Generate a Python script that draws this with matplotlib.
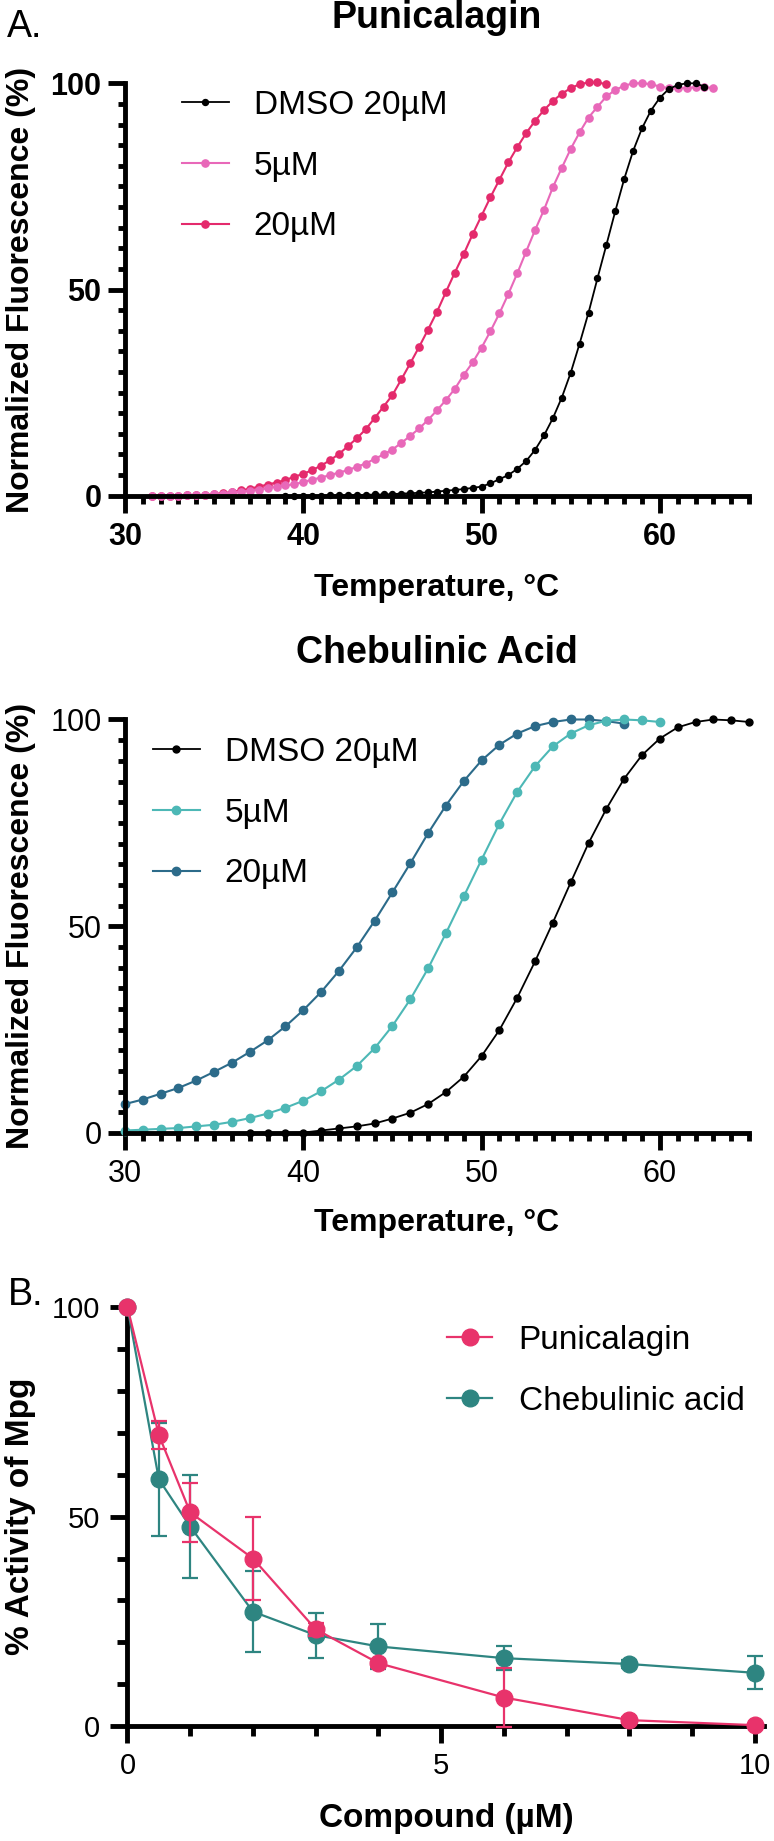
import numpy as np
import matplotlib
matplotlib.use('Agg')
import matplotlib.pyplot as plt
from matplotlib.lines import Line2D

plt.rcParams['font.family'] = ['Liberation Sans', 'DejaVu Sans']

# ---------------- data: Punicalagin melt curves (0.5 C steps) ----------------
temp_pun_5 = [31.5, 32.0, 32.5, 33.0, 33.5, 34.0, 34.5, 35.0, 35.5, 36.0,
              36.5, 37.0, 37.5, 38.0, 38.5, 39.0, 39.5, 40.0, 40.5, 41.0,
              41.5, 42.0, 42.5, 43.0, 43.5, 44.0, 44.5, 45.0, 45.5, 46.0,
              46.5, 47.0, 47.5, 48.0, 48.5, 49.0, 49.5, 50.0, 50.5, 51.0,
              51.5, 52.0, 52.5, 53.0, 53.5, 54.0, 54.5, 55.0, 55.5, 56.0,
              56.5, 57.0, 57.5, 58.0, 58.5, 59.0, 59.5, 60.0, 60.5, 61.0,
              61.5, 62.0, 62.5, 63.0]
fluor_pun_5 = [0.0, 0.0, 0.0, 0.0, 0.1, 0.1, 0.2, 0.3, 0.5, 0.8,
               1.0, 1.2, 1.5, 1.8, 2.2, 2.5, 2.8, 3.3, 3.9, 4.4,
               5.0, 5.6, 6.2, 7.0, 7.8, 8.9, 10.0, 11.2, 12.8, 14.5,
               16.3, 18.4, 20.7, 23.2, 25.9, 29.3, 32.3, 35.9, 39.9, 44.2,
               48.9, 53.9, 59.2, 64.4, 69.3, 74.8, 79.5, 84.1, 88.1, 91.7,
               94.3, 96.8, 98.4, 99.4, 100.0, 100.0, 99.8, 99.2, 98.8, 98.8,
               98.9, 99.0, 99.0, 98.9]

temp_pun_20 = [31.5, 32.0, 32.5, 33.0, 33.5, 34.0, 34.5, 35.0, 35.5, 36.0,
               36.5, 37.0, 37.5, 38.0, 38.5, 39.0, 39.5, 40.0, 40.5, 41.0,
               41.5, 42.0, 42.5, 43.0, 43.5, 44.0, 44.5, 45.0, 45.5, 46.0,
               46.5, 47.0, 47.5, 48.0, 48.5, 49.0, 49.5, 50.0, 50.5, 51.0,
               51.5, 52.0, 52.5, 53.0, 53.5, 54.0, 54.5, 55.0, 55.5, 56.0,
               56.5, 57.0]
fluor_pun_20 = [0.0, 0.0, 0.0, 0.0, 0.1, 0.1, 0.2, 0.4, 0.6, 0.9,
                1.3, 1.7, 2.2, 2.7, 3.2, 3.8, 4.6, 5.3, 6.2, 7.3,
                8.6, 10.1, 12.0, 13.9, 16.1, 18.8, 21.6, 24.4, 28.2, 32.1,
                36.1, 40.3, 44.6, 49.4, 54.1, 58.6, 63.4, 67.9, 72.4, 76.6,
                80.8, 84.5, 87.9, 90.9, 93.5, 95.7, 97.5, 98.8, 99.8, 100.2,
                100.2, 99.8]

temp_pun_dmso = [39.0, 39.5, 40.0, 40.5, 41.0, 41.5, 42.0, 42.5, 43.0, 43.5,
                 44.0, 44.5, 45.0, 45.5, 46.0, 46.5, 47.0, 47.5, 48.0, 48.5,
                 49.0, 49.5, 50.0, 50.5, 51.0, 51.5, 52.0, 52.5, 53.0, 53.5,
                 54.0, 54.5, 55.0, 55.5, 56.0, 56.5, 57.0, 57.5, 58.0, 58.5,
                 59.0, 59.5, 60.0, 60.5, 61.0, 61.5, 62.0, 62.5]
fluor_pun_dmso = [0.0, 0.0, 0.0, 0.0, 0.0, 0.1, 0.1, 0.1, 0.2, 0.2,
                  0.3, 0.3, 0.4, 0.5, 0.6, 0.7, 0.8, 1.0, 1.2, 1.4,
                  1.6, 1.9, 2.2, 3.0, 4.0, 5.0, 6.5, 8.4, 11.1, 14.6,
                  18.8, 23.8, 29.8, 36.9, 44.4, 52.7, 60.8, 69.0, 76.8, 83.6,
                  89.1, 93.4, 96.5, 98.6, 99.6, 100.0, 100.0, 99.2]

# ---------------- data: Chebulinic acid melt curves (1 C steps) ----------------
temp_che_20 = [30, 31, 32, 33, 34, 35, 36, 37, 38, 39, 40, 41, 42, 43, 44,
               45, 46, 47, 48, 49, 50, 51, 52, 53, 54, 55, 56, 57, 58]
fluor_che_20 = [7.0, 8.1, 9.5, 10.9, 12.7, 14.8, 17.0, 19.6, 22.4, 25.8,
                29.7, 34.1, 39.2, 44.9, 51.3, 58.2, 65.2, 72.5, 79.2, 85.1,
                90.1, 93.9, 96.6, 98.4, 99.4, 100.0, 100.0, 99.6, 99.0]

temp_che_5 = [30, 31, 32, 33, 34, 35, 36, 37, 38, 39, 40, 41, 42, 43, 44,
              45, 46, 47, 48, 49, 50, 51, 52, 53, 54, 55, 56, 57, 58, 59, 60]
fluor_che_5 = [0.6, 0.8, 1.0, 1.2, 1.6, 2.0, 2.7, 3.6, 4.7, 6.1,
               7.8, 10.1, 12.9, 16.2, 20.5, 25.9, 32.3, 39.8, 48.3, 57.2,
               66.1, 74.8, 82.5, 88.7, 93.5, 96.6, 98.6, 99.7, 100.0, 99.8, 99.4]

temp_che_dmso = [37, 38, 39, 40, 41, 42, 43, 44, 45, 46, 47, 48, 49, 50, 51,
                 52, 53, 54, 55, 56, 57, 58, 59, 60, 61, 62, 63, 64, 65]
fluor_che_dmso = [0.0, 0.0, 0.0, 0.1, 0.6, 1.1, 1.6, 2.3, 3.5, 4.9,
                  7.0, 9.9, 13.6, 18.6, 24.9, 32.7, 41.5, 50.9, 60.6, 70.1,
                  78.4, 85.7, 91.4, 95.4, 98.1, 99.4, 100.0, 99.8, 99.4]

# ---------------- data: Mpg activity ----------------
conc = [0, 0.5, 1, 2, 3, 4, 6, 8, 10]
act_pun = [100, 69.5, 51.0, 40.0, 23.1, 15.0, 6.8, 1.4, 0.2]
err_pun = [0, 3.4, 7.0, 9.8, 1.5, 1.0, 7.0, 0.8, 0.3]
act_che = [100, 58.9, 47.6, 27.3, 21.7, 19.0, 16.2, 14.8, 12.7]
err_che = [0, 13.5, 12.3, 9.6, 5.4, 5.4, 2.9, 1.0, 3.9]

# colours
c_black = '#000000'
c_pun5 = '#E868B9'
c_pun20 = '#E42A6C'
c_che5 = '#4DB8B6'
c_che20 = '#2C6B8A'
c_pun_b = '#E8336B'
c_che_b = '#2E8581'

W, H = 774, 1841
fig = plt.figure(figsize=(W / 100, H / 100), dpi=100)


def px_axes(left, right, top, bottom):
    return fig.add_axes([left / W, 1 - bottom / H, (right - left) / W, (bottom - top) / H])


def style_melt(ax, bold):
    ax.set_xlim(30, 65)
    ax.set_ylim(0, 100)
    for s in ['top', 'right']:
        ax.spines[s].set_visible(False)
    for s in ['left', 'bottom']:
        ax.spines[s].set_linewidth(3.5)
    ax.set_xticks([30, 40, 50, 60])
    ax.set_xticks(range(30, 66), minor=True)
    ax.set_yticks([0, 50, 100])
    ax.set_yticks(range(0, 101, 5), minor=True)
    ax.tick_params(which='major', length=12, width=3.5, labelsize=22)
    ax.tick_params(axis='x', which='major', pad=7)
    ax.tick_params(axis='y', which='major', pad=5)
    ax.tick_params(axis='x', which='minor', length=6, width=3.5)
    ax.tick_params(axis='y', which='minor', length=5, width=3.5)
    if bold:
        for lbl in ax.get_xticklabels() + ax.get_yticklabels():
            lbl.set_fontweight('bold')
    ax.set_xlabel('Temperature, °C', fontsize=23, fontweight='bold', va='center')
    ax.set_ylabel('Normalized Fluorescence (%)', fontsize=23, fontweight='bold', va='center')


leg_kw = dict(loc='upper left', bbox_transform=fig.transFigure, frameon=False,
              fontsize=24, handlelength=1.4, handletextpad=0.75,
              labelspacing=0.89, borderpad=0, borderaxespad=0)

# ---------------- panel A, Punicalagin ----------------
ax1 = px_axes(125, 749, 83.3, 495.7)
style_melt(ax1, True)
ax1.plot(temp_pun_20, fluor_pun_20, '-o', color=c_pun20, ms=5.2, lw=1.5, clip_on=False)
ax1.plot(temp_pun_5, fluor_pun_5, '-o', color=c_pun5, ms=5.2, lw=1.5, clip_on=False)
ax1.plot(temp_pun_dmso, fluor_pun_dmso, '-o', color=c_black, ms=4.3, lw=1.3, clip_on=False)
ax1.set_title('Punicalagin', fontsize=27, fontweight='bold', pad=0,
              y=(495.7 - 18) / 412.4, va='center')
ax1.xaxis.set_label_coords(0.5, -(588 - 495.7) / 412.4)
ax1.yaxis.set_label_coords((21 - 125) / 624, 0.5)
h1 = [Line2D([], [], color=c_black, marker='o', ms=4.3, lw=1.3),
      Line2D([], [], color=c_pun5, marker='o', ms=5.2, lw=1.5),
      Line2D([], [], color=c_pun20, marker='o', ms=5.2, lw=1.5)]
ax1.legend(h1, ['DMSO 20µM', '5µM', '20µM'], bbox_to_anchor=(182 / W, 1 - 90 / H), **leg_kw)

# ---------------- panel A, Chebulinic acid ----------------
ax2 = px_axes(125, 749, 719.5, 1133)
style_melt(ax2, False)
ax2.plot(temp_che_20, fluor_che_20, '-o', color=c_che20, ms=6, lw=1.5, clip_on=False)
ax2.plot(temp_che_5, fluor_che_5, '-o', color=c_che5, ms=6, lw=1.5, clip_on=False)
ax2.plot(temp_che_dmso, fluor_che_dmso, '-o', color=c_black, ms=5, lw=1.3, clip_on=False)
ax2.set_title('Chebulinic Acid', fontsize=27, fontweight='bold', pad=0,
              y=(1133 - 653.5) / 413.5, va='center')
ax2.xaxis.set_label_coords(0.5, -(1223 - 1133) / 413.5)
ax2.yaxis.set_label_coords((21 - 125) / 624, 0.5)
h2 = [Line2D([], [], color=c_black, marker='o', ms=5, lw=1.3),
      Line2D([], [], color=c_che5, marker='o', ms=6, lw=1.5),
      Line2D([], [], color=c_che20, marker='o', ms=6, lw=1.5)]
ax2.legend(h2, ['DMSO 20µM', '5µM', '20µM'], bbox_to_anchor=(153 / W, 1 - 737 / H), **leg_kw)

# ---------------- panel B ----------------
ax3 = px_axes(127.5, 764.4, 1307.3, 1726)
ax3.set_xlim(0, 10.15)
ax3.set_ylim(0, 100)
for s in ['top', 'right']:
    ax3.spines[s].set_visible(False)
for s in ['left', 'bottom']:
    ax3.spines[s].set_linewidth(3.5)
ax3.set_xticks([0, 5, 10])
ax3.set_xticks([1, 2, 3, 4, 6, 7, 8, 9], minor=True)
ax3.set_yticks([0, 50, 100])
ax3.set_yticks([10, 20, 30, 40, 60, 70, 80, 90], minor=True)
ax3.tick_params(which='major', length=12, width=3.5, labelsize=21)
ax3.tick_params(axis='x', which='major', pad=7)
ax3.tick_params(axis='y', which='major', pad=8)
ax3.tick_params(which='minor', length=7, width=3.5)

ax3.errorbar(conc, act_che, yerr=err_che, fmt='none', ecolor=c_che_b, elinewidth=1.6,
             capsize=6, capthick=1.6, clip_on=False, zorder=2)
ax3.plot(conc, act_che, '-o', color=c_che_b, ms=12, lw=1.6, clip_on=False, zorder=3)
ax3.errorbar(conc, act_pun, yerr=err_pun, fmt='none', ecolor=c_pun_b, elinewidth=1.6,
             capsize=6, capthick=1.6, clip_on=False, zorder=4)
ax3.plot(conc, act_pun, '-o', color=c_pun_b, ms=12, lw=1.6, clip_on=False, zorder=5)

ax3.set_xlabel('Compound (µM)', fontsize=24, fontweight='bold', va='center')
ax3.set_ylabel('% Activity of Mpg', fontsize=24, fontweight='bold', va='center')
ax3.xaxis.set_label_coords(0.5, -(1819 - 1726) / 418.7)
ax3.yaxis.set_label_coords((21 - 127.5) / 636.9, 0.5)
h3 = [Line2D([], [], color=c_pun_b, marker='o', ms=12, lw=1.6),
      Line2D([], [], color=c_che_b, marker='o', ms=12, lw=1.6)]
leg3_kw = dict(leg_kw, handlelength=1.35, handletextpad=0.8)
ax3.legend(h3, ['Punicalagin', 'Chebulinic acid'], bbox_to_anchor=(447 / W, 1 - 1325 / H), **leg3_kw)

# panel letters
fig.text(7 / W, 1 - 37 / H, 'A.', fontsize=27, va='baseline', ha='left')
fig.text(8 / W, 1 - 1305 / H, 'B.', fontsize=27, va='baseline', ha='left')

fig.savefig('out.png', dpi=100)
